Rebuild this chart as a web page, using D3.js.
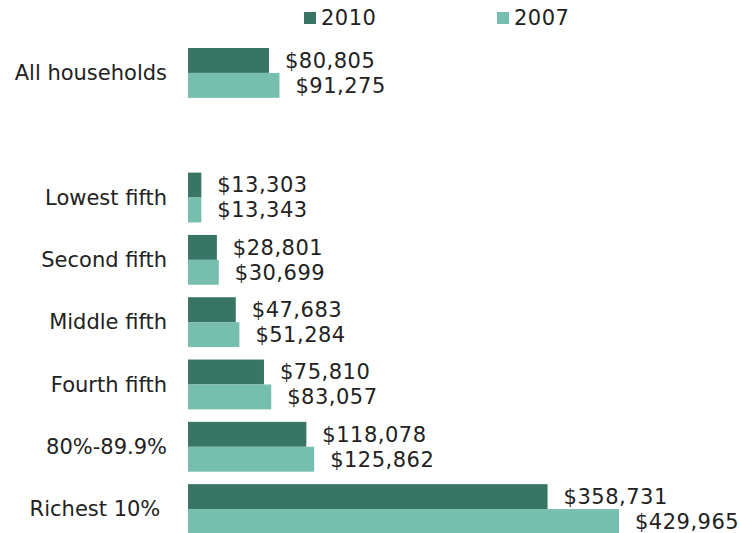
<!DOCTYPE html>
<html>
<head>
<meta charset="utf-8">
<script src="https://cdn.jsdelivr.net/npm/d3@7"></script>
<style>
  body { margin: 0; background: #fff; }
  svg text { font-family: "DejaVu Sans", Verdana, sans-serif; fill: #222; }
</style>
</head>
<body>
<svg id="chart"></svg>
<script>
// categories, blank slot keeps the gap under "All households"
var categories = ['All households', '', 'Lowest fifth', 'Second fifth', 'Middle fifth',
                  'Fourth fifth', '80%-89.9%', 'Richest 10%\u00a0'];
var seriesNames = ['2010', '2007'];
var values2010 = [80805, null, 13303, 28801, 47683, 75810, 118078, 358731];
var values2007 = [91275, null, 13343, 30699, 51284, 83057, 125862, 429965];
var colors = ['#387565', '#76bfae'];

var w = 741, h = 533;
var margin = { top: 48, right: 20, bottom: 0, left: 188 };

var svg = d3.select('#chart').attr('width', w).attr('height', h);

var y = d3.scaleBand()
          .domain(d3.range(categories.length))
          .range([margin.top, 534])
          .paddingInner(0.2)
          .paddingOuter(0);

var x = d3.scaleLinear()
          .domain([0, 430000])
          .range([margin.left, 619]);

var sub = d3.scaleBand().domain([0, 1]).range([0, y.bandwidth()]);

var rows = categories.map(function(c, i) {
  return { cat: c, i: i, vals: [values2010[i], values2007[i]] };
});

var fmt = d3.format('$,');

var g = svg.selectAll('g.row')
           .data(rows)
           .enter()
           .append('g')
           .attr('class', 'row')
           .attr('transform', function(d) { return 'translate(0,' + y(d.i) + ')'; });

g.append('text')
 .attr('x', 167)
 .attr('y', y.bandwidth() / 2)
 .attr('dy', '0.35em')
 .attr('text-anchor', 'end')
 .style('font-size', '21px')
 .style('white-space', 'pre')
 .text(function(d) { return d.cat; });

g.each(function(d) {
  if (d.vals[0] == null) return;
  var row = d3.select(this);
  var pairs = d.vals.map(function(v, k) { return { v: v, k: k }; });
  row.selectAll('rect')
     .data(pairs)
     .enter()
     .append('rect')
     .attr('x', x(0))
     .attr('y', function(p) { return sub(p.k); })
     .attr('width', function(p) { return x(p.v) - x(0); })
     .attr('height', sub.bandwidth())
     .attr('fill', function(p) { return colors[p.k]; });
  row.selectAll('text.val')
     .data(pairs)
     .enter()
     .append('text')
     .attr('class', 'val')
     .attr('x', function(p) { return x(p.v) + 16; })
     .attr('y', function(p) { return sub(p.k) + sub.bandwidth() / 2; })
     .attr('dy', '0.35em')
     .style('font-size', '21px')
     .style('letter-spacing', '0.5px')
     .text(function(p) { return fmt(p.v); });
});

// legend
var legendX = [304, 497];
var lg = svg.selectAll('g.legend')
            .data(seriesNames)
            .enter()
            .append('g')
            .attr('class', 'legend')
            .attr('transform', function(d, i) { return 'translate(' + legendX[i] + ',12)'; });
lg.append('rect').attr('width', 12).attr('height', 12)
  .attr('fill', function(d, i) { return colors[i]; });
lg.append('text').attr('x', 17).attr('y', 6).attr('dy', '0.35em')
  .style('font-size', '21px')
  .style('letter-spacing', '0.5px')
  .text(function(d) { return d; });
</script>
</body>
</html>
